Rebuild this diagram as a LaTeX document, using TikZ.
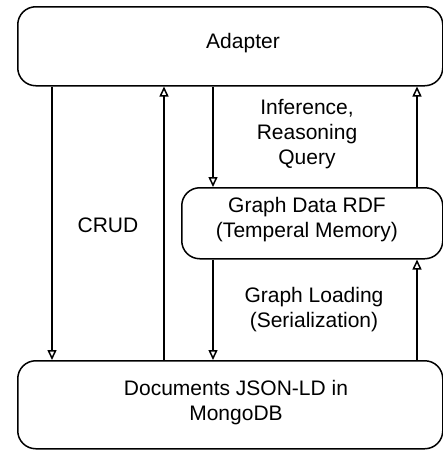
\documentclass[tikz,border=0pt]{standalone}
\usepackage{fontspec}
\setmainfont{Liberation Sans}
\usetikzlibrary{arrows.meta, positioning}

\tikzset{
  block/.style={draw, line width=1.5pt, rounded corners=18pt, inner sep=0pt},
  lbl/.style={align=center, font=\fontsize{21}{25}\selectfont},
  flow/.style={line width=1.5pt, -{Triangle[open, length=10pt, width=9pt]}}
}

\begin{document}
\begin{tikzpicture}[x=1pt, y=-1pt]
  \useasboundingbox (0,0) rectangle (443,450);

  % Boxes
  \node[block, minimum width=425pt, minimum height=79pt, anchor=north west] (adapter) at (17,6) {};
  \node[block, minimum width=261pt, minimum height=71pt, anchor=north west] (graph) at (181,187) {};
  \node[block, minimum width=425pt, minimum height=88pt, anchor=north west] (docs) at (17,360) {};

  % Box texts
  \node[lbl] (adaptertxt) at (243,43) {Adapter};
  \node[lbl] (graphtxt) at (307,220) {Graph Data RDF\\(Temperal Memory)};
  \node[lbl] (docstxt) at (236,403) {Documents JSON-LD in\\MongoDB};

  % Connector columns
  \coordinate (c1) at (52,0);
  \coordinate (c2) at (164,0);
  \coordinate (c3) at (213,0);
  \coordinate (c4) at (417,0);

  % CRUD
  \draw[flow] (c1 |- adapter.south) -- (c1 |- docs.north);
  \draw[flow] (c2 |- docs.north) -- (c2 |- adapter.south);
  \node[lbl] (crud) at (108,225) {CRUD};

  % Inference
  \draw[flow] (c3 |- adapter.south) -- (c3 |- graph.north);
  \draw[flow] (c4 |- graph.north) -- (c4 |- adapter.south);
  \node[lbl] (infer) at (307,134) {Inference,\\Reasoning\\Query};

  % Loading
  \draw[flow] (c3 |- graph.south) -- (c3 |- docs.north);
  \draw[flow] (c4 |- docs.north) -- (c4 |- graph.south);
  \node[lbl] (load) at (314,310) {Graph Loading\\(Serialization)};
\end{tikzpicture}
\end{document}
